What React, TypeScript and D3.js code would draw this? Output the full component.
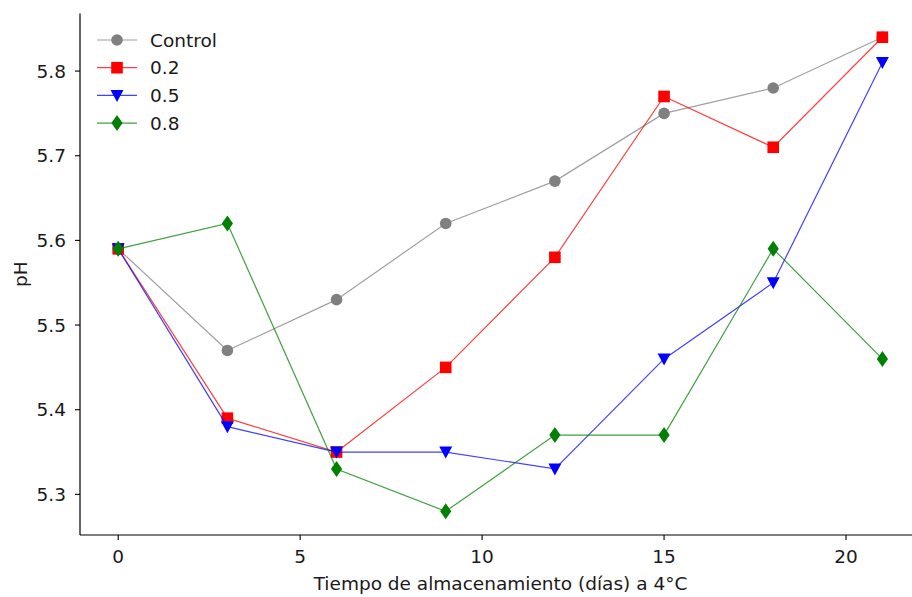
import React from "react";
import * as d3 from "d3";

const days = [0, 3, 6, 9, 12, 15, 18, 21];
const control = [5.59, 5.47, 5.53, 5.62, 5.67, 5.75, 5.78, 5.84];
const conc02 = [5.59, 5.39, 5.35, 5.45, 5.58, 5.77, 5.71, 5.84];
const conc05 = [5.59, 5.38, 5.35, 5.35, 5.33, 5.46, 5.55, 5.81];
const conc08 = [5.59, 5.62, 5.33, 5.28, 5.37, 5.37, 5.59, 5.46];
const seriesNames = ["Control", "0.2", "0.5", "0.8"];
const seriesColors = ["#808080", "#ff0000", "#0000ff", "#008000"];
const seriesMarkers = ["circle", "square", "triangle", "diamond"];
const xTicks = [0, 5, 10, 15, 20];
const yTicks = [5.3, 5.4, 5.5, 5.6, 5.7, 5.8];
const xLabel = "Tiempo de almacenamiento (días) a 4°C";
const yLabel = "pH";

const W = 912;
const H = 597;
const left = 80;
const bottom = 535;
const top = 13.5;
const FS = 18.5;

const FONT = "DejaVu Sans, sans-serif";

function Marker({ type, x, y, color }: { type: string; x: number; y: number; color: string }) {
  if (type === "circle") return <circle cx={x} cy={y} r={5.8} fill={color} />;
  if (type === "square") return <rect x={x - 5.8} y={y - 5.8} width={11.6} height={11.6} fill={color} />;
  if (type === "triangle")
    return <path d={`M${x - 6.5},${y - 5.5} L${x + 6.5},${y - 5.5} L${x},${y + 6.5} Z`} fill={color} />;
  return <path d={`M${x},${y - 8} L${x + 5.6},${y} L${x},${y + 8} L${x - 5.6},${y} Z`} fill={color} />;
}

export default function App() {
  const x = d3.scaleLinear().domain([-1.05, 22.05]).range([left, left + 23.1 * 36.39]);
  const y = d3.scaleLinear().domain([5.252, 5.868]).range([bottom, top]);
  const allSeries = [control, conc02, conc05, conc08];
  const line = d3
    .line<number>()
    .x((_, i) => x(days[i]))
    .y((d) => y(d));

  return (
    <svg width={W} height={H} style={{ position: "absolute", left: 0, top: 0 }} fontFamily={FONT}>
      <rect width={W} height={H} fill="#fff" />
      {allSeries.map((s, k) => (
        <g key={k}>
          <path d={line(s) || ""} fill="none" stroke={seriesColors[k]} strokeWidth={1.2} strokeOpacity={0.75} />
          {s.map((v, i) => (
            <Marker key={i} type={seriesMarkers[k]} x={x(days[i])} y={y(v)} color={seriesColors[k]} />
          ))}
        </g>
      ))}
      {/* spines */}
      <line x1={left} x2={left} y1={top} y2={bottom} stroke="#000" strokeWidth={1.2} />
      <line x1={left} x2={W} y1={bottom} y2={bottom} stroke="#000" strokeWidth={1.2} />
      {xTicks.map((t) => (
        <g key={t}>
          <line x1={x(t)} x2={x(t)} y1={bottom} y2={bottom + 5} stroke="#000" strokeWidth={1.1} />
          <text x={x(t)} y={bottom + 21} fontSize={FS} textAnchor="middle" dominantBaseline="central" fill="#1a1a1a">
            {t}
          </text>
        </g>
      ))}
      {yTicks.map((t) => (
        <g key={t}>
          <line x1={left - 5} x2={left} y1={y(t)} y2={y(t)} stroke="#000" strokeWidth={1.1} />
          <text x={left - 14} y={y(t)} fontSize={FS} textAnchor="end" dominantBaseline="central" fill="#1a1a1a">
            {t.toFixed(1)}
          </text>
        </g>
      ))}
      <text x={(left + 921) / 2} y={583} fontSize={FS} textAnchor="middle" dominantBaseline="central" fill="#1a1a1a">
        {xLabel}
      </text>
      <text
        transform={`translate(20,${(top + bottom) / 2}) rotate(-90)`}
        fontSize={FS}
        textAnchor="middle"
        dominantBaseline="central"
        fill="#1a1a1a"
      >
        {yLabel}
      </text>
      {seriesNames.map((name, k) => {
        const ly = 40 + k * 27.7;
        return (
          <g key={name}>
            <line x1={97} x2={137} y1={ly} y2={ly} stroke={seriesColors[k]} strokeWidth={1.2} strokeOpacity={0.75} />
            <Marker type={seriesMarkers[k]} x={117} y={ly} color={seriesColors[k]} />
            <text x={150} y={ly} fontSize={FS} dominantBaseline="central" fill="#1a1a1a">
              {name}
            </text>
          </g>
        );
      })}
    </svg>
  );
}
